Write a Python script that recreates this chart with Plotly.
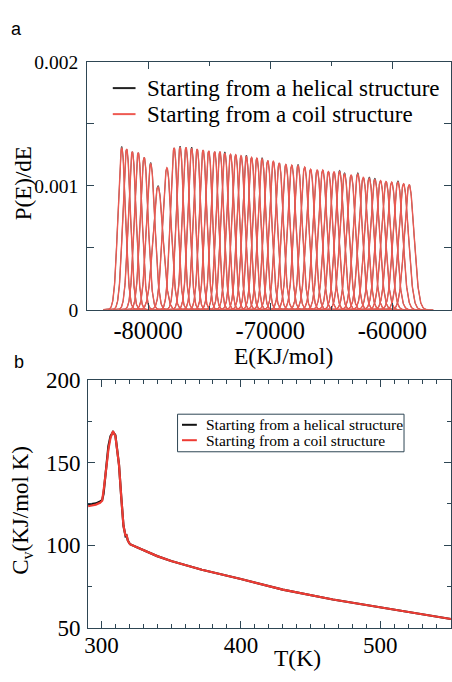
import numpy as np
import plotly.graph_objects as go

# ---------------- Panel a data: replica energy distributions ----------------
peak_centers = [-82162, -81757, -81296, -80810, -80324, -79790, -79190, -78462, -77871, -77385,
                -76899, -76437, -75984, -75498, -75036, -74551, -74122, -73717, -73255, -72826,
                -72389, -71960, -71531, -71094, -70665, -70203, -69749, -69264, -68721, -68235,
                -67725, -67183, -66697, -66154, -65701, -65239, -64778, -64324, -63919, -63377,
                -62834, -62381, -61895, -61433, -60972, -60518, -60057, -59547, -59085, -58624]
coil_heights = [0.001307, 0.001297, 0.001276, 0.001268, 0.001230, 0.001177, 0.000991, 0.001146, 0.001307, 0.001310,
                0.001310, 0.001302, 0.001297, 0.001289, 0.001282, 0.001276, 0.001276, 0.001263, 0.001255, 0.001251,
                0.001243, 0.001237, 0.001230, 0.001224, 0.001216, 0.001204, 0.001198, 0.001185, 0.001173, 0.001167,
                0.001162, 0.001152, 0.001134, 0.001128, 0.001128, 0.001115, 0.001113, 0.001115, 0.001095, 0.001087,
                0.001095, 0.001068, 0.001061, 0.001051, 0.001043, 0.001035, 0.001030, 0.001030, 0.001017, 0.001009]
helical_heights = [0.001319, 0.001297, 0.001276, 0.001268, 0.001230, 0.001189, 0.001003, 0.001146, 0.001307, 0.001322,
                   0.001310, 0.001314, 0.001297, 0.001289, 0.001282, 0.001276, 0.001276, 0.001275, 0.001255, 0.001251,
                   0.001243, 0.001249, 0.001230, 0.001224, 0.001228, 0.001204, 0.001198, 0.001185, 0.001173, 0.001167,
                   0.001174, 0.001152, 0.001134, 0.001128, 0.001128, 0.001115, 0.001113, 0.001127, 0.001107, 0.001087,
                   0.001107, 0.001068, 0.001073, 0.001063, 0.001043, 0.001035, 0.001030, 0.001042, 0.001017, 0.001009]
peak_widths = [305, 308, 313, 315, 324, 339, 403, 348, 305, 305,
               305, 306, 308, 309, 311, 313, 313, 316, 318, 319,
               321, 322, 324, 326, 328, 331, 333, 337, 340, 342,
               343, 346, 352, 354, 354, 358, 358, 358, 364, 367,
               364, 373, 376, 380, 382, 385, 387, 387, 392, 395]

E_tickvals = [-80000, -70000, -60000]
E_ticktext = ["-80000", "-70000", "-60000"]
E_minor_ticks = [-85000, -75000, -65000, -55000]
P_tickvals = [0, 0.001, 0.002]
P_ticktext = ["0", "0.001", "0.002"]
P_minor_ticks = [0.0005, 0.0015]

# ---------------- Panel b data: heat capacity ----------------
T_coil = [290.4, 293, 296, 299, 300.5, 302, 303.5, 305, 306.5, 308.3, 310, 311.5, 312.6, 314.2,
          315.8, 317.3, 318, 319, 320.5, 325, 331, 340, 350, 372, 400, 430, 466, 500, 525, 550.7]
Cv_coil = [123.5, 123.8, 124.5, 125.6, 126.8, 136, 148.6, 158, 165, 169, 166, 157, 148.6, 129.2,
           111.7, 105.4, 106.3, 102.5, 100.5, 98.8, 96.6, 93.3, 90.3, 85.0, 79.4, 73.0, 67.0, 62.2, 58.7, 55.2]
T_helical = [290.4, 293, 296, 299, 300.5, 301.5, 303.5, 305, 306.5, 308.3, 310, 311.5, 312.6, 314.2,
             315.8, 317.3, 318, 319, 320.5, 325, 331, 340, 350, 372, 400, 430, 466, 500, 525, 550.7]
Cv_helical = [124.5, 124.7, 125.2, 126.4, 127.2, 131, 149.5, 160, 166, 168.5, 166.5, 157.5, 148.6, 129.2,
              111.7, 105.4, 105.8, 102.5, 100.5, 98.8, 96.6, 93.3, 90.3, 85.0, 79.4, 73.0, 67.0, 62.2, 58.7, 55.2]

T_tickvals = [300, 400, 500]
T_mid_ticks = [350, 450, 550]
Cv_tickvals = [50, 100, 150, 200]

W, H = 452, 682
AX = "#2e4654"
SERIF = "Liberation Serif"
SANS = "Liberation Sans"


def px(x):
    return x / W


def py(y):
    return 1 - y / H


def peak_curves(centers, heights, widths):
    xs, ys = [], []
    for c, h, w in zip(centers, heights, widths):
        x = np.linspace(c - 5 * w, c + 5 * w, 161)
        y = h * np.exp(-0.5 * ((x - c) / w) ** 2)
        xs.extend(x.tolist() + [None])
        ys.extend(y.tolist() + [None])
    return xs, ys


fig = go.Figure()

hx, hy = peak_curves(peak_centers, helical_heights, peak_widths)
cx, cy = peak_curves(peak_centers, coil_heights, peak_widths)
fig.add_trace(go.Scatter(x=hx, y=hy, mode="lines", line=dict(color="#222222", width=0.8),
                         xaxis="x", yaxis="y", showlegend=False, connectgaps=False))
fig.add_trace(go.Scatter(x=cx, y=cy, mode="lines", line=dict(color="#ea5a52", width=1.4),
                         xaxis="x", yaxis="y", showlegend=False, connectgaps=False))

fig.add_trace(go.Scatter(x=T_helical, y=Cv_helical, mode="lines", line=dict(color="#111111", width=2.2),
                         xaxis="x2", yaxis="y2", showlegend=False))
fig.add_trace(go.Scatter(x=T_coil, y=Cv_coil, mode="lines", line=dict(color="#ee3b33", width=2.2),
                         xaxis="x2", yaxis="y2", showlegend=False))


def axis(size, **kw):
    d = dict(showline=True, linecolor=AX, linewidth=1, mirror="ticks", ticks="inside",
             tickcolor=AX, tickwidth=1, showgrid=False, zeroline=False, tickmode="array",
             tickfont=dict(family=SERIF, size=size, color="black"))
    d.update(kw)
    return d


def minor(**kw):
    d = dict(ticks="inside", tickcolor=AX, showgrid=False)
    d.update(kw)
    return d


fig.update_layout(
    width=W, height=H, margin=dict(l=0, r=0, t=0, b=0),
    paper_bgcolor="white", plot_bgcolor="white",
    font=dict(family=SERIF, color="black"),
    xaxis=axis(24.5, domain=[px(84), 1], range=[-85000, -55200], anchor="y",
               tickvals=E_tickvals, ticktext=E_ticktext, ticklen=7,
               minor=minor(tickvals=E_minor_ticks, ticklen=4),
               ticklabelstandoff=-1),
    yaxis=axis(19.5, domain=[py(309), py(52)], range=[0, 0.002], anchor="x",
               tickvals=P_tickvals, ticktext=P_ticktext, ticklen=7,
               minor=minor(tickvals=P_minor_ticks, ticklen=7),
               ticklabelstandoff=4),
    xaxis2=axis(23, domain=[px(85), 1], range=[290.4, 550.7], anchor="y2",
                tickvals=T_tickvals, ticklen=7,
                minor=minor(dtick=10, tick0=290, ticklen=4),
                ticklabelstandoff=-3),
    xaxis3=dict(domain=[px(85), 1], range=[290.4, 550.7], anchor="y2", overlaying="x2",
                tickmode="array", tickvals=T_mid_ticks, ticks="inside", ticklen=7, tickcolor=AX,
                showticklabels=False, showline=False, mirror="ticks", showgrid=False, zeroline=False),
    yaxis2=axis(23, domain=[py(639), py(382)], range=[50, 200], anchor="x2",
                tickvals=Cv_tickvals, ticklen=7,
                minor=minor(dtick=25, tick0=50, ticklen=4),
                ticklabelstandoff=2),
)

ann = []
shapes = []


def text(x, y, s, size, family=SERIF, xanchor="center", angle=0):
    ann.append(dict(x=px(x), y=py(y), xref="paper", yref="paper", text=s, showarrow=False,
                    xanchor=xanchor, yanchor="middle", textangle=angle,
                    font=dict(family=family, size=size, color="black")))


# panel labels
text(13, 18, "a", 18, family=SANS)
text(15, 363, "b", 18, family=SANS)
# axis titles
text(283, 357, "E(KJ/mol)", 23.5)
text(20, 178, "P(E)/dE", 23, angle=-90)
text(297, 671, "T(K)", 23.5)
text(18, 517, "C<sub>v</sub>(KJ/mol K)", 23, angle=-90)

# legend a (no box)
shapes.append(dict(type="line", xref="paper", yref="paper", x0=px(110), x1=px(133), y0=py(79), y1=py(79),
                   line=dict(color="#222222", width=2)))
shapes.append(dict(type="line", xref="paper", yref="paper", x0=px(110), x1=px(133), y0=py(106), y1=py(106),
                   line=dict(color="#ee5a52", width=2)))
text(143, 79, "Starting from a helical structure", 23, xanchor="left")
text(143, 106, "Starting from a coil structure", 23, xanchor="left")

# legend b (boxed)
shapes.append(dict(type="rect", xref="paper", yref="paper", x0=px(175.5), x1=px(404.5), y0=py(417.5), y1=py(456.5),
                   line=dict(color=AX, width=1), fillcolor="white", layer="below"))
shapes.append(dict(type="line", xref="paper", yref="paper", x0=px(180), x1=px(195), y0=py(428.5), y1=py(428.5),
                   line=dict(color="#111111", width=2)))
shapes.append(dict(type="line", xref="paper", yref="paper", x0=px(180), x1=px(195), y0=py(444.5), y1=py(444.5),
                   line=dict(color="#ee3b33", width=2)))
text(202, 428.5, "Starting from a helical structure", 15.5, xanchor="left")
text(202, 444.5, "Starting from a coil structure", 15.5, xanchor="left")

fig.update_layout(annotations=ann, shapes=shapes)
fig.write_html("out.html", config={"displayModeBar": False},
               post_script="document.body.style.margin='0px';document.body.style.overflow='hidden';")
